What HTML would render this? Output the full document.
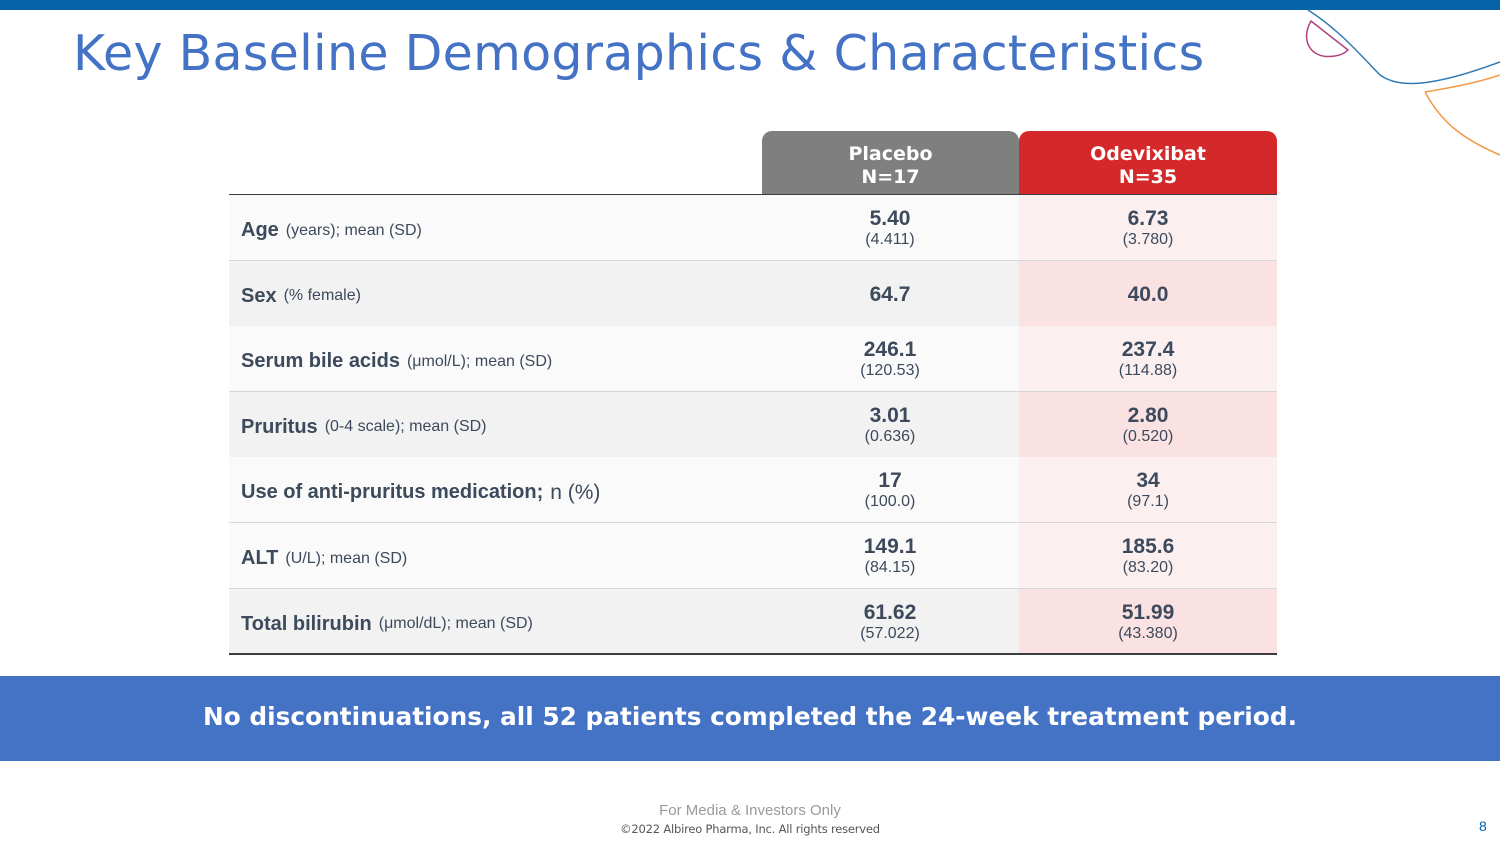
<!DOCTYPE html>
<html><head><meta charset="utf-8"><style>
*{margin:0;padding:0;box-sizing:border-box}
body{width:1500px;height:844px;background:#fff;position:relative;overflow:hidden;font-family:"Liberation Sans",sans-serif}
.abs{position:absolute}
.title{left:73px;top:25px;font-family:"DejaVu Sans","Liberation Sans",sans-serif;font-size:49px;color:#4472c4;letter-spacing:0.3px}
.hdr{top:131px;height:64px;border-radius:10px 10px 0 0;color:#fff;font-family:"DejaVu Sans",sans-serif;font-weight:bold;font-size:19px;text-align:center;line-height:23px;padding-top:12px}
.row{left:229px;width:1048px;height:66px;border-bottom:1px solid #d6d6d6}
.lab{position:absolute;left:12px;top:3px;height:65px;display:flex;align-items:center;color:#3d4a5c;font-size:16px}
.lab b{font-size:20px;margin-right:7px}
.c{position:absolute;top:0;height:65px;width:258px;display:flex;flex-direction:column;justify-content:center;align-items:center;color:#3d4a5c;padding-top:2px}
.c b{font-size:21px;line-height:23px}
.c span{font-size:16px;line-height:20px}
</style></head><body>
<div class="abs" style="left:0;top:0;width:1500px;height:10px;background:#0563a8"></div>
<svg class="abs" style="left:1280px;top:0" width="220" height="170">
<path d="M28 10 C60 30,85 60,100 75 C118 88,150 88,220 62" fill="none" stroke="#2e7bb5" stroke-width="1.5"/>
<path d="M31 21 C20 40,30 60,55 56 C62 55,66 52,68 50 Z" fill="none" stroke="#b0417f" stroke-width="1.5"/>
<path d="M145 92 C170 88,200 82,220 75 M145 92 C160 120,180 138,220 155" fill="none" stroke="#f09a44" stroke-width="1.5"/>
</svg>
<div class="abs title">Key Baseline Demographics &amp; Characteristics</div>
<div class="abs hdr" style="left:762px;width:257px;background:#7f7f7f">Placebo<br>N=17</div>
<div class="abs hdr" style="left:1019px;width:258px;background:#d5282b">Odevixibat<br>N=35</div>
<div class="abs" style="left:229px;top:194px;width:1048px;height:2px;background:#3d3d3d"></div>
<div id="rows"></div>
<div class="abs" style="left:229px;top:653px;width:1048px;height:2px;background:#3d3d3d"></div>
<div class="abs" style="left:0;top:676px;width:1500px;height:85px;background:#4472c4;color:#fff;font-family:'DejaVu Sans',sans-serif;font-weight:bold;font-size:24.8px;display:flex;align-items:center;justify-content:center;padding-bottom:4px">No discontinuations, all 52 patients completed the 24-week treatment period.</div>
<div class="abs" style="left:0;width:1500px;top:802px;text-align:center;color:#9a9a9a;font-size:15px">For Media &amp; Investors Only</div>
<div class="abs" style="left:0;width:1500px;top:822px;text-align:center;color:#555;font-size:11.5px;font-family:'DejaVu Sans',sans-serif;letter-spacing:-0.2px">©2022 Albireo Pharma, Inc. All rights reserved</div>
<div class="abs" style="left:1479px;top:818px;color:#0563a8;font-size:14px">8</div>
<script>
const labels=["Age","Sex","Serum bile acids","Pruritus","Use of anti-pruritus medication;","ALT","Total bilirubin"];
const subs=["(years); mean (SD)","(% female)","(μmol/L); mean (SD)","(0-4 scale); mean (SD)","n (%)","(U/L); mean (SD)","(μmol/dL); mean (SD)"];
const placebo=["5.40","64.7","246.1","3.01","17","149.1","61.62"];
const placeboSd=["(4.411)","","(120.53)","(0.636)","(100.0)","(84.15)","(57.022)"];
const odev=["6.73","40.0","237.4","2.80","34","185.6","51.99"];
const odevSd=["(3.780)","","(114.88)","(0.520)","(97.1)","(83.20)","(43.380)"];
const greys=[false,true,false,true,false,false,true];
const host=document.getElementById('rows');
labels.forEach((l,i)=>{
 const r=document.createElement('div');
 r.className='abs row';
 
 
 r.style.top=(195+i*65.6)+'px';
 r.style.background=greys[i]?'#f2f2f2':'#fafafa';
 if(i==6) r.style.borderBottom='none';
 r.innerHTML=`<div class="lab" style="${i==4?'font-size:21px':''}"><b>${l}</b>${subs[i]}</div>
 <div class="c" style="left:532px"><b>${placebo[i]}</b>${placeboSd[i]?'<span>'+placeboSd[i]+'</span>':''}</div>
 <div class="c" style="left:790px;background:${greys[i]?'#fae1e2':'#fbeff0'}"><b>${odev[i]}</b>${odevSd[i]?'<span>'+odevSd[i]+'</span>':''}</div>`;
 host.appendChild(r);
});
</script>
</body></html>
